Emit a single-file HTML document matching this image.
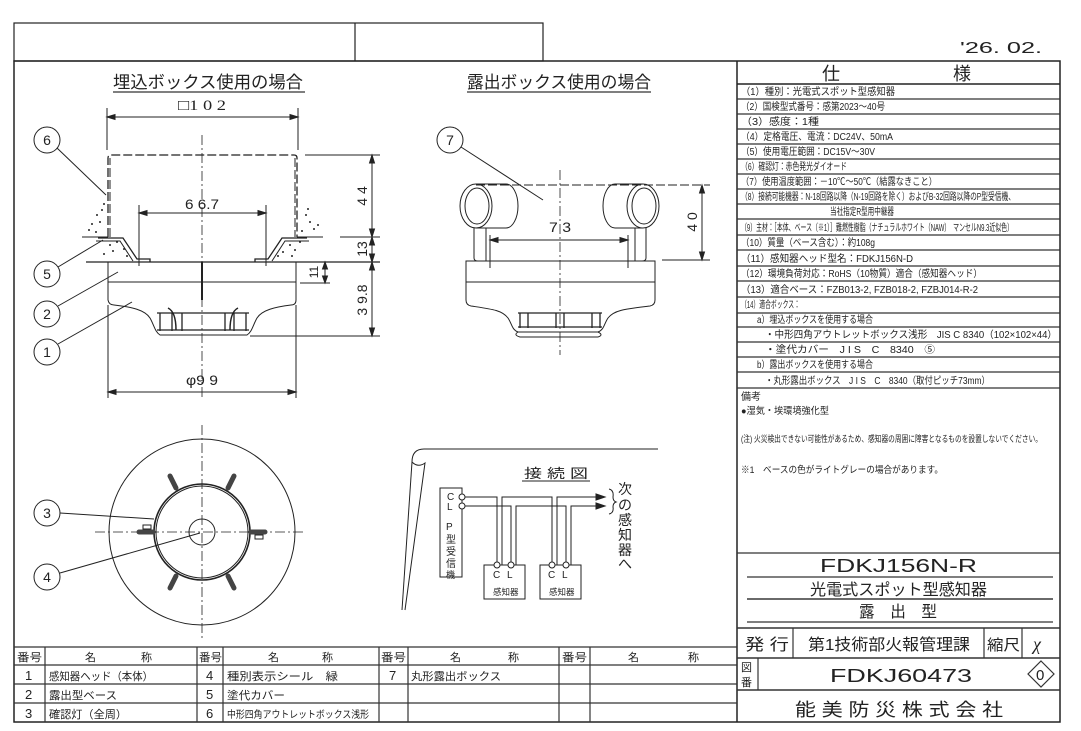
<!DOCTYPE html>
<html><head><meta charset="utf-8"><style>
html,body{margin:0;padding:0;background:#fff;}
svg{display:block;}
text{font-family:"Liberation Sans","Noto Sans CJK JP",sans-serif;fill:#222;}
.s{font-family:"Liberation Serif","Noto Sans CJK JP",serif;}
</style></head><body>
<svg width="1081" height="731" viewBox="0 0 1081 731" xmlns="http://www.w3.org/2000/svg">
<g fill="none" stroke="#222" stroke-width="1.2">
<!-- top box -->
<rect x="14" y="23" width="529" height="38"/>
<line x1="355" y1="23" x2="355" y2="61"/>
<!-- frame -->
<rect x="14" y="61" width="1046" height="661" stroke-width="1.5"/>
<!-- spec column -->
<line x1="737" y1="61" x2="737" y2="722" stroke-width="1.5"/>
<line x1="737" y1="84" x2="1060" y2="84" stroke-width="1.5"/>
</g>
<text x="960" y="53" font-size="16" textLength="82" lengthAdjust="spacingAndGlyphs">'26. 02.</text>
<text x="822" y="80" font-size="18">仕</text>
<text x="953" y="80" font-size="18">様</text>

<!-- spec rows -->
<g stroke="#333" stroke-width="1.3">
<line x1="737" y1="99" x2="1060" y2="99"/><line x1="737" y1="114" x2="1060" y2="114"/>
<line x1="737" y1="129" x2="1060" y2="129"/><line x1="737" y1="144" x2="1060" y2="144"/>
<line x1="737" y1="159" x2="1060" y2="159"/><line x1="737" y1="174" x2="1060" y2="174"/>
<line x1="737" y1="189" x2="1060" y2="189"/><line x1="737" y1="204" x2="1060" y2="204"/>
<line x1="737" y1="219" x2="1060" y2="219"/><line x1="737" y1="235" x2="1060" y2="235"/>
<line x1="737" y1="250" x2="1060" y2="250"/><line x1="737" y1="266" x2="1060" y2="266"/>
<line x1="737" y1="281" x2="1060" y2="281"/><line x1="737" y1="297" x2="1060" y2="297"/>
<line x1="737" y1="313" x2="1060" y2="313"/><line x1="737" y1="327" x2="1060" y2="327"/>
<line x1="737" y1="342" x2="1060" y2="342"/><line x1="737" y1="357" x2="1060" y2="357"/>
<line x1="737" y1="372" x2="1060" y2="372"/><line x1="737" y1="388" x2="1060" y2="388"/>
<line x1="737" y1="553" x2="1060" y2="553"/>
</g>
<g font-size="10">
<text x="741" y="95" textLength="154" lengthAdjust="spacingAndGlyphs">（1）種別：光電式スポット型感知器</text>
<text x="741" y="110" textLength="144" lengthAdjust="spacingAndGlyphs">（2）国検型式番号：感第2023～40号</text>
<text x="741" y="125" textLength="78" lengthAdjust="spacingAndGlyphs">（3）感度：1種</text>
<text x="741" y="140" textLength="152" lengthAdjust="spacingAndGlyphs">（4）定格電圧、電流：DC24V、50mA</text>
<text x="741" y="155" textLength="134" lengthAdjust="spacingAndGlyphs">（5）使用電圧範囲：DC15V～30V</text>
<text x="741" y="170" textLength="106" lengthAdjust="spacingAndGlyphs">（6）確認灯：赤色発光ダイオード</text>
<text x="741" y="185" textLength="196" lengthAdjust="spacingAndGlyphs">（7）使用温度範囲：－10℃～50℃（結露なきこと）</text>
<text x="741" y="200" textLength="274" lengthAdjust="spacingAndGlyphs">（8）接続可能機器：N-18回路以降（N-19回路を除く）およびB-32回路以降のP型受信機、</text>
<text x="830" y="215" textLength="64" lengthAdjust="spacingAndGlyphs">当社指定R型用中継器</text>
<text x="741" y="231" textLength="272" lengthAdjust="spacingAndGlyphs">（9）主材：［本体、ベース（※1）］難燃性樹脂（ナチュラルホワイト（NAW）　マンセルN9.3近似色）</text>
<text x="741" y="246" textLength="134" lengthAdjust="spacingAndGlyphs">（10）質量（ベース含む）：約108g</text>
<text x="741" y="262" textLength="172" lengthAdjust="spacingAndGlyphs">（11）感知器ヘッド型名：FDKJ156N-D</text>
<text x="741" y="277" textLength="241" lengthAdjust="spacingAndGlyphs">（12）環境負荷対応：RoHS（10物質）適合（感知器ヘッド）</text>
<text x="741" y="293" textLength="237" lengthAdjust="spacingAndGlyphs">（13）適合ベース：FZB013-2, FZB018-2, FZBJ014-R-2</text>
<text x="741" y="308" textLength="59" lengthAdjust="spacingAndGlyphs">（14）適合ボックス：</text>
<text x="757" y="323" textLength="116" lengthAdjust="spacingAndGlyphs">a）埋込ボックスを使用する場合</text>
<text x="765" y="338" textLength="292" lengthAdjust="spacingAndGlyphs">・中形四角アウトレットボックス浅形　JIS C 8340（102×102×44）</text>
<text x="765" y="353" textLength="170" lengthAdjust="spacingAndGlyphs">・塗代カバー　J I S　C　8340　⑤</text>
<text x="757" y="368" textLength="116" lengthAdjust="spacingAndGlyphs">b）露出ボックスを使用する場合</text>
<text x="765" y="384" textLength="225" lengthAdjust="spacingAndGlyphs">・丸形露出ボックス　J I S　C　8340（取付ピッチ73mm）</text>
<text x="741" y="400">備考</text>
<text x="741" y="414" font-size="9.5" textLength="88" lengthAdjust="spacingAndGlyphs">●湿気・埃環境強化型</text>
<text x="741" y="442" font-size="9" textLength="301" lengthAdjust="spacingAndGlyphs">(注) 火災検出できない可能性があるため、感知器の周囲に障害となるものを設置しないでください。</text>
<text x="741" y="473" font-size="9.5" textLength="202" lengthAdjust="spacingAndGlyphs">※1　ベースの色がライトグレーの場合があります。</text>
</g>

<!-- title block -->
<g stroke="#333" stroke-width="1.2" fill="none">
<line x1="747" y1="577" x2="1053" y2="577"/>
<line x1="747" y1="599" x2="1053" y2="599" stroke="#111"/>
<line x1="747" y1="622" x2="1053" y2="622"/>
<line x1="737" y1="628" x2="1060" y2="628" stroke-width="1.5"/>
<line x1="737" y1="658" x2="1060" y2="658" stroke-width="1.5"/>
<line x1="737" y1="690" x2="1060" y2="690" stroke-width="1.5"/>
<line x1="793" y1="628" x2="793" y2="658"/>
<line x1="984" y1="628" x2="984" y2="658"/>
<line x1="1022" y1="628" x2="1022" y2="658"/>
<line x1="758" y1="658" x2="758" y2="690"/>
<path d="M1041,661 L1054,674 L1041,687 L1028,674 Z"/>
</g>
<text x="820" y="572" font-size="18" textLength="157" lengthAdjust="spacingAndGlyphs">FDKJ156N-R</text>
<text x="810" y="595" font-size="16" textLength="177" lengthAdjust="spacingAndGlyphs">光電式スポット型感知器</text>
<text x="859" y="617" font-size="16" textLength="78" lengthAdjust="spacingAndGlyphs">露　出　型</text>
<text x="745" y="650" font-size="16" textLength="44" lengthAdjust="spacingAndGlyphs">発 行</text>
<text x="808" y="650" font-size="16" textLength="162" lengthAdjust="spacingAndGlyphs">第1技術部火報管理課</text>
<text x="987" y="650" font-size="15" textLength="33" lengthAdjust="spacingAndGlyphs">縮尺</text>
<text x="1033" y="650" font-size="18" class="s" font-style="italic">χ</text>
<text x="741" y="671" font-size="11">図</text>
<text x="741" y="686" font-size="11">番</text>
<text x="830" y="682" font-size="18" textLength="142" lengthAdjust="spacingAndGlyphs">FDKJ60473</text>
<text x="1036" y="680" font-size="15">0</text>
<text x="795" y="716" font-size="18" textLength="208" lengthAdjust="spacingAndGlyphs">能 美 防 災 株 式 会 社</text>

<!-- bottom parts table -->
<g stroke="#333" stroke-width="1.2" fill="none">
<line x1="14" y1="647" x2="737" y2="647"/>
<line x1="14" y1="665" x2="737" y2="665"/>
<line x1="14" y1="684" x2="737" y2="684"/>
<line x1="14" y1="703" x2="737" y2="703"/>
<line x1="45" y1="647" x2="45" y2="722"/>
<line x1="197" y1="647" x2="197" y2="722"/>
<line x1="223" y1="647" x2="223" y2="722"/>
<line x1="379" y1="647" x2="379" y2="722"/>
<line x1="408" y1="647" x2="408" y2="722"/>
<line x1="559" y1="647" x2="559" y2="722"/>
<line x1="590" y1="647" x2="590" y2="722"/>
</g>
<g font-size="11">
<text x="17" y="661" textLength="25" lengthAdjust="spacingAndGlyphs">番号</text>
<text x="85" y="661">名</text><text x="141" y="661">称</text>
<text x="199" y="661" textLength="23" lengthAdjust="spacingAndGlyphs">番号</text>
<text x="268" y="661">名</text><text x="322" y="661">称</text>
<text x="381" y="661" textLength="25" lengthAdjust="spacingAndGlyphs">番号</text>
<text x="450" y="661">名</text><text x="508" y="661">称</text>
<text x="562" y="661" textLength="25" lengthAdjust="spacingAndGlyphs">番号</text>
<text x="628" y="661">名</text><text x="688" y="661">称</text>
<text x="25" y="680" font-size="13">1</text><text x="25" y="699" font-size="13">2</text><text x="25" y="718" font-size="13">3</text>
<text x="206" y="680" font-size="13">4</text><text x="206" y="699" font-size="13">5</text><text x="206" y="718" font-size="13">6</text>
<text x="389" y="680" font-size="13">7</text>
<text x="49" y="680" textLength="104" lengthAdjust="spacingAndGlyphs">感知器ヘッド（本体）</text>
<text x="49" y="699" textLength="68" lengthAdjust="spacingAndGlyphs">露出型ベース</text>
<text x="49" y="718" textLength="78" lengthAdjust="spacingAndGlyphs">確認灯（全周）</text>
<text x="227" y="680" textLength="111" lengthAdjust="spacingAndGlyphs">種別表示シール　緑</text>
<text x="227" y="699" textLength="58" lengthAdjust="spacingAndGlyphs">塗代カバー</text>
<text x="227" y="718" font-size="10" textLength="142" lengthAdjust="spacingAndGlyphs">中形四角アウトレットボックス浅形</text>
<text x="411" y="680" textLength="90" lengthAdjust="spacingAndGlyphs">丸形露出ボックス</text>
</g>

<!-- LEFT DRAWING -->
<text x="113" y="88" font-size="17" textLength="190" lengthAdjust="spacingAndGlyphs">埋込ボックス使用の場合</text>
<line x1="113" y1="92" x2="305" y2="92" stroke="#333" stroke-width="1.2"/>
<text x="178" y="110" font-size="15" class="s" textLength="48" lengthAdjust="spacingAndGlyphs">□1 0 2</text>
<g stroke="#222" stroke-width="1" fill="none">
<line x1="107" y1="108" x2="107" y2="150"/><line x1="298" y1="108" x2="298" y2="150"/>
<line x1="107" y1="117" x2="298" y2="117"/>
<path d="M107,117 l8,-2.5 v5 z M298,117 l-8,-2.5 v5 z" fill="#222"/>
<!-- dashed box -->
<path d="M108,237 V158 Q108,155 111,155 H294 Q297,155 297,158 V237" stroke-dasharray="9,3" stroke-width="1.3"/>
<path d="M110,237 V158 M295,158 V237" stroke-dasharray="9,3"/>
<!-- ground / cover -->
<line x1="82" y1="237" x2="108" y2="237"/><line x1="297" y1="237" x2="323" y2="237"/>
<path d="M98,238 L123,238 L137,259 L150,259 L150,262 M307,238 L282,238 L268,259 L255,259 L255,262" stroke-width="1.3"/>
<path d="M96,241 L120,241 L133,261 M309,241 L285,241 L272,261"/>
<line x1="86" y1="262" x2="380" y2="262" stroke-width="1.2"/>
<!-- base/head -->
<path d="M108,262 V300 Q109,305 114,305 C132,307 145,310 150,318 C154,325 155,332 160,335 H247 C252,332 253,325 257,318 C262,310 275,307 291,305 Q296,305 296,300 V262"/>
<line x1="108" y1="282" x2="296" y2="282"/>
<path d="M157,313 H249 M157,330 H249 M160,313 V331 M172,313 V331 M182,313 V331 M225,313 V331 M234,313 V331 M246,313 V331" stroke-width="1.3"/>
<path d="M168,308 Q176,312 176,330 M238,308 Q230,312 230,330" stroke-width="1.5"/>
<!-- 66.7 -->
<line x1="139" y1="205" x2="139" y2="266"/><line x1="266" y1="205" x2="266" y2="266"/>
<line x1="139" y1="213" x2="266" y2="213"/>
<path d="M139,213 l8,-2.5 v5 z M266,213 l-8,-2.5 v5 z" fill="#222"/>
<!-- phi99 -->
<line x1="108" y1="305" x2="108" y2="398"/><line x1="296" y1="305" x2="296" y2="398"/>
<line x1="108" y1="392" x2="296" y2="392"/>
<path d="M108,392 l8,-2.5 v5 z M296,392 l-8,-2.5 v5 z" fill="#222"/>
<!-- right dims -->
<line x1="305" y1="155" x2="380" y2="155"/>
<line x1="340" y1="237" x2="380" y2="237"/>
<line x1="250" y1="336" x2="380" y2="336"/>
<line x1="300" y1="283" x2="330" y2="283"/>
<line x1="372" y1="155" x2="372" y2="336"/>
<path d="M372,155 l-2.5,8 h5 z M372,237 l-2.5,-8 h5 z M372,237 l-2.5,8 h5 z M372,262 l-2.5,-8 h5 z M372,262 l-2.5,8 h5 z M372,336 l-2.5,-8 h5 z" fill="#222"/>
<line x1="325" y1="262" x2="325" y2="283"/>
<path d="M325,262 l-2.5,7 h5 z M325,283 l-2.5,-7 h5 z" fill="#222"/>
<!-- centerline -->
<line x1="202" y1="135" x2="202" y2="400" stroke-dasharray="10,3,2,3" stroke-width="0.8"/>
<line x1="202" y1="262" x2="202" y2="300" stroke-width="2"/>
<!-- circles and leaders -->
<circle cx="47" cy="140" r="13"/><circle cx="47" cy="274" r="13"/><circle cx="47" cy="314" r="13"/><circle cx="47" cy="352" r="13"/>
<line x1="57" y1="148" x2="106" y2="195"/>
<line x1="58" y1="267" x2="103" y2="240"/>
<line x1="58" y1="306" x2="118" y2="272"/>
<line x1="58" y1="344" x2="132" y2="302"/>
</g>
<g fill="#222">
<circle cx="92" cy="224" r="1"/><circle cx="97" cy="215" r="1"/><circle cx="102" cy="210" r="1"/><circle cx="89" cy="230" r="1"/><circle cx="100" cy="222" r="1"/><circle cx="104" cy="204" r="1"/><circle cx="96" cy="232" r="1"/>
<circle cx="110" cy="245" r="1"/><circle cx="117" cy="242" r="1"/><circle cx="113" cy="251" r="1"/><circle cx="124" cy="249" r="1"/><circle cx="104" cy="254" r="1"/><circle cx="127" cy="256" r="1"/>
<circle cx="306" cy="215" r="1"/><circle cx="310" cy="222" r="1"/><circle cx="314" cy="229" r="1"/><circle cx="302" cy="231" r="1"/><circle cx="318" cy="225" r="1"/><circle cx="308" cy="209" r="1"/>
<circle cx="290" cy="245" r="1"/><circle cx="283" cy="252" r="1"/><circle cx="295" cy="250" r="1"/><circle cx="300" cy="242" r="1"/><circle cx="278" cy="256" r="1"/><circle cx="292" cy="256" r="1"/>
</g>
<g class="s" font-size="14">
<text x="202" y="209" text-anchor="middle" textLength="34" lengthAdjust="spacingAndGlyphs">6 6.7</text>
<text x="202" y="385" text-anchor="middle" textLength="32" lengthAdjust="spacingAndGlyphs">φ9 9</text>
<text x="0" y="0" transform="translate(367,196) rotate(-90)" text-anchor="middle">4 4</text>
<text x="0" y="0" transform="translate(367,249) rotate(-90)" text-anchor="middle">13</text>
<text x="0" y="0" transform="translate(318,272) rotate(-90)" text-anchor="middle" font-size="12">11</text>
<text x="0" y="0" transform="translate(367,300) rotate(-90)" text-anchor="middle">3 9.8</text>
<text x="47" y="145" text-anchor="middle">6</text><text x="47" y="279" text-anchor="middle">5</text>
<text x="47" y="319" text-anchor="middle">2</text><text x="47" y="357" text-anchor="middle">1</text>
</g>

<!-- MIDDLE DRAWING -->
<text x="467" y="88" font-size="17" textLength="184" lengthAdjust="spacingAndGlyphs">露出ボックス使用の場合</text>
<line x1="467" y1="92" x2="651" y2="92" stroke="#333" stroke-width="1.2"/>
<g stroke="#222" stroke-width="1" fill="none">
<circle cx="450" cy="140" r="13"/>
<line x1="461" y1="147" x2="543" y2="200"/>
<line x1="476" y1="185" x2="710" y2="185" stroke-dasharray="9,3"/>
<ellipse cx="476" cy="206" rx="16" ry="22"/><ellipse cx="477" cy="206" rx="12" ry="18"/>
<ellipse cx="643" cy="206" rx="16" ry="22"/><ellipse cx="644" cy="206" rx="12" ry="18"/>
<path d="M476,184 H506 A12,22 0 0 1 506,228 H476"/>
<path d="M643,184 H615 A12,22 0 0 0 615,228 H643"/>
<path d="M474,228 V258 Q474,261 478,261 M486,228 V261 M635,228 V261 M646,228 V258 Q646,261 642,261"/>
<line x1="490" y1="235" x2="490" y2="268"/><line x1="628" y1="235" x2="628" y2="268"/>
<line x1="490" y1="240" x2="628" y2="240"/>
<path d="M490,240 l8,-2.5 v5 z M628,240 l-8,-2.5 v5 z" fill="#222"/>
<line x1="662" y1="260" x2="710" y2="260"/>
<line x1="702" y1="185" x2="702" y2="260"/>
<path d="M702,185 l-2.5,8 h5 z M702,260 l-2.5,-8 h5 z" fill="#222"/>
<path d="M466,261 H655 V300 Q655,305 650,306 C625,309 614,310 608,318 C604,324 604,330 598,332 H518 C512,330 512,324 508,318 C502,310 491,309 471,306 Q466,305 466,300 Z"/>
<line x1="466" y1="282" x2="655" y2="282"/>
<path d="M518,332 Q513,335 520,337 H598 Q604,335 598,332"/>
<path d="M518,313 H602 M518,327 H602 M520,313 V328 M528,313 V328 M556,313 V328 M564,313 V328 M592,313 V328 M600,313 V328" stroke-width="1.3"/>
<line x1="560" y1="170" x2="560" y2="355" stroke-dasharray="10,3,2,3" stroke-width="0.8"/>
</g>
<g class="s" font-size="14">
<text x="450" y="145" text-anchor="middle">7</text>
<text x="560" y="232" text-anchor="middle" textLength="22" lengthAdjust="spacingAndGlyphs">7 3</text>
<text x="0" y="0" transform="translate(697,222) rotate(-90)" text-anchor="middle">4 0</text>
</g>

<!-- BOTTOM CIRCLE -->
<g stroke="#222" stroke-width="1" fill="none">
<circle cx="202" cy="532" r="93"/>
<circle cx="202" cy="532" r="48" stroke-width="1.6"/>
<circle cx="202" cy="532" r="46"/>
<circle cx="202" cy="532" r="13"/>
<line x1="95" y1="532" x2="306" y2="532" stroke-dasharray="10,3,2,3" stroke-width="0.8"/>
<line x1="202" y1="425" x2="202" y2="640" stroke-dasharray="10,3,2,3" stroke-width="0.8"/>
<g stroke-width="5" stroke-linecap="round" stroke="#444">
<line x1="176" y1="488" x2="170" y2="476"/><line x1="228" y1="488" x2="234" y2="476"/>
<line x1="176" y1="576" x2="170" y2="588"/><line x1="228" y1="576" x2="234" y2="588"/>
<line x1="139" y1="532" x2="153" y2="532"/><line x1="251" y1="532" x2="265" y2="532"/>
</g>
<rect x="143" y="525" width="8" height="4"/><rect x="255" y="535" width="8" height="4"/>
<circle cx="47" cy="513" r="13"/><circle cx="47" cy="577" r="13"/>
<line x1="60" y1="513" x2="154" y2="519"/>
<line x1="60" y1="573" x2="200" y2="533"/>
</g>
<g class="s" font-size="14"><text x="47" y="518" text-anchor="middle">3</text><text x="47" y="582" text-anchor="middle">4</text></g>

<!-- CONNECTION DIAGRAM -->
<g stroke="#222" stroke-width="1" fill="none">
<path d="M412,462 Q412,449 424,449 H658"/>
<path d="M412,462 Q418,468 425,463 L405,610"/>
<line x1="412" y1="462" x2="402" y2="610"/>
<line x1="522" y1="481" x2="590" y2="481"/>
<rect x="440" y="488" width="22" height="89"/>
<circle cx="462" cy="497" r="3" fill="#fff"/><circle cx="462" cy="506" r="3" fill="#fff"/>
<path d="M465,497 H497 V565 M502,565 V497 H552 V565 M557,565 V497 H605"/>
<path d="M465,506 H511 V565 M516,565 V506 H566 V565 M571,565 V506 H605"/>
<path d="M605,497 l-9,-3 v6 z M605,506 l-9,-3 v6 z" fill="#222"/>
<rect x="484" y="565" width="41" height="34"/><rect x="540" y="565" width="41" height="34"/>
<circle cx="497" cy="565" r="3" fill="#fff"/><circle cx="511" cy="565" r="3" fill="#fff"/>
<circle cx="552" cy="565" r="3" fill="#fff"/><circle cx="566" cy="565" r="3" fill="#fff"/>
<path d="M609,489 Q614,490 613,497 Q613,501 616,502 Q613,503 613,507 Q614,513 609,514"/>
</g>
<text x="524" y="478" font-size="13" textLength="64" lengthAdjust="spacingAndGlyphs">接 続 図</text>
<g font-size="10">
<text x="447" y="500">C</text><text x="447" y="510">L</text>
<text x="446" y="530">P</text><text x="446" y="543">型</text><text x="446" y="555">受</text><text x="446" y="567">信</text><text x="446" y="578" font-size="9">機</text>
<text x="493" y="578">C</text><text x="507" y="578">L</text>
<text x="548" y="578">C</text><text x="562" y="578">L</text>
<text x="493" y="595" font-size="8.5">感知器</text><text x="549" y="595" font-size="8.5">感知器</text>
</g>
<g font-size="14">
<text x="618" y="494">次</text><text x="618" y="510">の</text><text x="618" y="525">感</text><text x="618" y="540">知</text><text x="618" y="555">器</text><text x="618" y="569">へ</text>
</g>
</svg>
</body></html>
